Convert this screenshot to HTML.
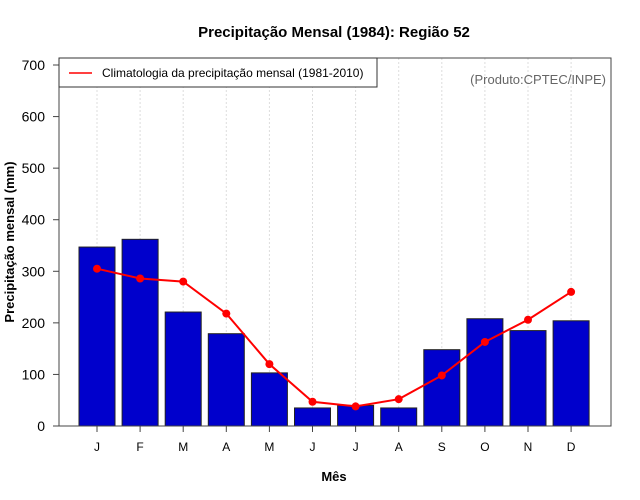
<!DOCTYPE html>
<html><head><meta charset="utf-8"><style>body{margin:0;background:#fff}svg{display:block;font-family:"Liberation Sans",sans-serif}</style></head>
<body>
<svg id="chart" width="640" height="500">
<text x="334" y="37" text-anchor="middle" font-size="15" font-weight="bold">Precipitação Mensal (1984): Região 52</text>
<text x="334" y="481" text-anchor="middle" font-size="13" font-weight="bold">Mês</text>
<text transform="translate(14,242) rotate(-90)" text-anchor="middle" font-size="13" font-weight="bold">Precipitação mensal (mm)</text>
<g id="grid"></g><g id="bars"></g><g id="line"></g><g id="axes"></g>
<rect x="59" y="58" width="552" height="368" fill="none" stroke="#444" stroke-width="1"/>
<g>
<rect x="59" y="58" width="318" height="29" fill="#fff" stroke="#333"/>
<line x1="69" y1="73" x2="92" y2="73" stroke="red" stroke-width="1.5"/>
<text x="102" y="77" font-size="12">Climatologia da precipitação mensal (1981-2010)</text>
</g>
<text x="606" y="84" text-anchor="end" font-size="13" fill="#666">(Produto:CPTEC/INPE)</text>
</svg>
<script>
const months=["J","F","M","A","M","J","J","A","S","O","N","D"];
const observed=[347,362,221,179,103,35,40,35,148,208,185,204];
const climatology=[305,286,280,218,120,47,38,52,98,163,206,260];
const yTicks=[0,100,200,300,400,500,600,700];
const NS="http://www.w3.org/2000/svg";
const x=i=>97+i*43.1;
const y=v=>426-v*0.5157;
function mk(tag,attrs,parent){const e=document.createElementNS(NS,tag);for(const k in attrs)e.setAttribute(k,attrs[k]);document.getElementById(parent).appendChild(e);return e;}
months.forEach((m,i)=>{
 const g=mk("line",{x1:x(i),x2:x(i),y1:58,y2:426,stroke:"#ddd","stroke-dasharray":"2,2"},"grid");
 
 
 const b=mk("rect",{x:x(i)-18,y:y(observed[i]),width:36,height:426-y(observed[i]),fill:"#0000cc",stroke:"#222","stroke-width":1},"bars");
 
 
 const t=mk("line",{x1:x(i),x2:x(i),y1:426,y2:432,stroke:"#444"},"axes");
 
 
 const l=mk("text",{x:x(i),y:451,"text-anchor":"middle","font-size":12},"axes");
 l.textContent=m;
 
 
});
const pts=climatology.map((v,i)=>x(i)+","+y(v)).join(" ");
const pl=mk("polyline",{points:pts,fill:"none",stroke:"red","stroke-width":2},"line");


climatology.forEach((v,i)=>{
 const c=mk("circle",{cx:x(i),cy:y(v),r:4,fill:"red"},"line");
 
 
});
yTicks.forEach(v=>{
 const t=mk("line",{x1:53,x2:59,y1:y(v),y2:y(v),stroke:"#444"},"axes");
 
 
 const l=mk("text",{x:45,y:y(v)+5,"text-anchor":"end","font-size":14},"axes");
 l.textContent=v;
 
 
});
</script>
</body></html>
